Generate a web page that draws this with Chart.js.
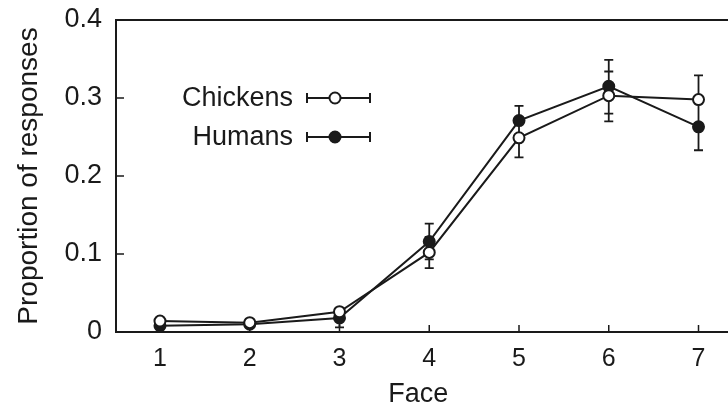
<!DOCTYPE html>
<html>
<head>
<meta charset="utf-8">
<script src="https://cdn.jsdelivr.net/npm/chart.js@4.4.1/dist/chart.umd.min.js"></script>
<style>
html,body{margin:0;padding:0;background:#fff;}
#wrap{width:728px;height:404px;}
</style>
</head>
<body>
<div id="wrap"><canvas id="c" width="728" height="404"></canvas></div>
<script>
const faces = [1, 2, 3, 4, 5, 6, 7];
const xTicks = [1, 2, 3, 4, 5, 6, 7];
const yTicks = [0, 0.1, 0.2, 0.3, 0.4];
const chickens = [0.014, 0.012, 0.026, 0.102, 0.249, 0.303, 0.298];
const chickensLow = [0.011, 0.009, 0.021, 0.082, 0.224, 0.270, 0.267];
const chickensHigh = [0.017, 0.015, 0.031, 0.122, 0.274, 0.334, 0.329];
const humans = [0.008, 0.010, 0.018, 0.116, 0.271, 0.315, 0.263];
const humansLow = [0.006, 0.007, 0.006, 0.093, 0.252, 0.280, 0.233];
const humansHigh = [0.010, 0.013, 0.026, 0.139, 0.290, 0.349, 0.293];
const legendLabels = ['Chickens', 'Humans'];

const FONT = 'Liberation Sans, Arial, Helvetica, sans-serif';
const INK = '#1a1a1a';

const toPts = (vals) => faces.map((f, i) => ({x: f, y: vals[i]}));

const errorBars = [
  {low: humansLow, high: humansHigh},
  {low: chickensLow, high: chickensHigh}
];

const framePlugin = {
  id: 'frame',
  beforeDatasetsDraw(chart) {
    const ctx = chart.ctx;
    const xs = chart.scales.x, ys = chart.scales.y;
    const area = chart.chartArea;
    const rightEdge = chart.width;
    ctx.save();
    ctx.strokeStyle = INK;
    ctx.lineWidth = 2;
    ctx.beginPath();
    ctx.moveTo(rightEdge, area.top);
    ctx.lineTo(area.left, area.top);
    ctx.lineTo(area.left, area.bottom);
    ctx.lineTo(rightEdge, area.bottom);
    ctx.stroke();
    ctx.lineWidth = 1.5;
    ctx.beginPath();
    yTicks.forEach(v => {
      const y = ys.getPixelForValue(v);
      ctx.moveTo(area.left, y);
      ctx.lineTo(area.left + 8, y);
    });
    xTicks.forEach(v => {
      const x = xs.getPixelForValue(v);
      ctx.moveTo(x, area.bottom);
      ctx.lineTo(x, area.bottom - 7);
    });
    ctx.stroke();
    ctx.lineWidth = 1.8;
    ctx.beginPath();
    errorBars.forEach(eb => {
      faces.forEach((f, i) => {
        const x = xs.getPixelForValue(f);
        const y1 = ys.getPixelForValue(eb.low[i]);
        const y2 = ys.getPixelForValue(eb.high[i]);
        ctx.moveTo(x, y1); ctx.lineTo(x, y2);
        ctx.moveTo(x - 4.5, y1); ctx.lineTo(x + 4.5, y1);
        ctx.moveTo(x - 4.5, y2); ctx.lineTo(x + 4.5, y2);
      });
    });
    ctx.stroke();
    ctx.restore();
  },
  afterDraw(chart) {
    const ctx = chart.ctx;
    const ys = chart.scales.y;
    ctx.save();
    ctx.font = '27px ' + FONT;
    ctx.fillStyle = INK;
    ctx.textAlign = 'right';
    ctx.textBaseline = 'middle';
    const rows = [ys.getPixelForValue(0.3), ys.getPixelForValue(0.3) + 39];
    const filled = [false, true];
    rows.forEach((y, k) => {
      ctx.fillStyle = INK;
      ctx.fillText(legendLabels[k], 293, y + 1);
      ctx.strokeStyle = INK;
      ctx.lineWidth = 2;
      ctx.beginPath();
      ctx.moveTo(307, y); ctx.lineTo(370, y);
      ctx.moveTo(307, y - 5); ctx.lineTo(307, y + 5);
      ctx.moveTo(370, y - 5); ctx.lineTo(370, y + 5);
      ctx.stroke();
      ctx.beginPath();
      ctx.arc(335, y, 5.5, 0, Math.PI * 2);
      ctx.fillStyle = filled[k] ? INK : '#fff';
      ctx.fill();
      ctx.lineWidth = 2;
      ctx.stroke();
    });
    ctx.restore();
  }
};

new Chart(document.getElementById('c'), {
  type: 'line',
  data: {
    datasets: [
      {
        label: 'Chickens',
        data: toPts(chickens),
        borderColor: INK,
        borderWidth: 2,
        pointRadius: 5.5,
        pointBorderWidth: 2,
        pointBackgroundColor: '#fff',
        pointBorderColor: INK,
        tension: 0,
        fill: false
      },
      {
        label: 'Humans',
        data: toPts(humans),
        borderColor: INK,
        borderWidth: 2,
        pointRadius: 5.5,
        pointBorderWidth: 2,
        pointBackgroundColor: INK,
        pointBorderColor: INK,
        tension: 0,
        fill: false
      }
    ]
  },
  options: {
    responsive: false,
    animation: false,
    devicePixelRatio: 1,
    layout: {padding: {top: 20, right: 0, left: 0, bottom: 0}},
    plugins: {legend: {display: false}, tooltip: {enabled: false}},
    scales: {
      x: {
        type: 'linear',
        min: 0.51,
        max: 7.245,
        afterBuildTicks(scale) { scale.ticks = xTicks.map(v => ({value: v})); },
        afterFit(scale) { scale.height = 72; scale.paddingLeft = 0; scale.paddingRight = 0; },
        grid: {display: false, drawTicks: false},
        border: {display: false},
        ticks: {
          color: INK,
          font: {family: FONT, size: 25},
          padding: 12,
          maxRotation: 0,
          autoSkip: false,
          callback: (v) => String(v)
        },
        title: {
          display: true,
          text: 'Face',
          color: INK,
          font: {family: FONT, size: 27, lineHeight: 0.7},
          padding: {top: 0, bottom: 0}
        }
      },
      y: {
        type: 'linear',
        min: 0,
        max: 0.4,
        afterBuildTicks(scale) { scale.ticks = yTicks.map(v => ({value: v})); },
        afterFit(scale) { scale.width = 116; scale.paddingTop = 0; scale.paddingBottom = 0; },
        grid: {display: false, drawTicks: false},
        border: {display: false},
        ticks: {
          color: INK,
          font: {family: FONT, size: 27},
          padding: 14,
          autoSkip: false,
          callback: (v) => (v === 0 ? '0' : v.toFixed(1))
        },
        title: {
          display: true,
          text: 'Proportion of responses',
          color: INK,
          font: {family: FONT, size: 28, lineHeight: 1.2},
          padding: {top: 12, bottom: 0}
        }
      }
    }
  },
  plugins: [framePlugin]
});
</script>
</body>
</html>
